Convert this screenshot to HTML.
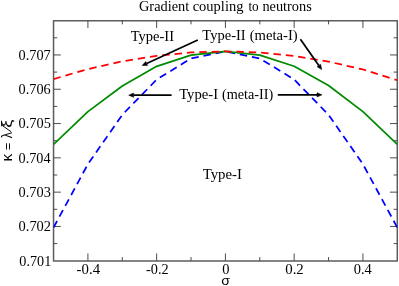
<!DOCTYPE html>
<html><head><meta charset="utf-8"><title>Gradient coupling to neutrons</title>
<style>
html,body{margin:0;padding:0;background:#fff;}
body{width:399px;height:286px;overflow:hidden;}
svg{display:block;will-change:transform;}
text{font-family:"Liberation Serif",serif;font-size:14px;fill:#000;}
.sym{font-family:"Liberation Sans",sans-serif;}
</style></head><body>
<svg width="399" height="286" viewBox="0 0 399 286">
<rect x="0" y="0" width="399" height="286" fill="#fff"/>

<defs><clipPath id="c"><rect x="53.54" y="20.65" width="343.76" height="240.10"/></clipPath></defs>
<g stroke="#5c5c5c" stroke-width="1.5" fill="none" stroke-linejoin="round">
<rect x="53.54" y="20.82" width="343.76" height="240.15"/>
</g>
<g stroke="#383838" stroke-width="0.9" fill="none">
<path d="M87.92 260.75 v-7.3 M87.92 20.65 v7.3"/>
<path d="M122.29 260.75 v-3.7 M122.29 20.65 v3.7"/>
<path d="M156.67 260.75 v-7.3 M156.67 20.65 v7.3"/>
<path d="M191.04 260.75 v-3.7 M191.04 20.65 v3.7"/>
<path d="M225.42 260.75 v-7.3 M225.42 20.65 v7.3"/>
<path d="M259.80 260.75 v-3.7 M259.80 20.65 v3.7"/>
<path d="M294.17 260.75 v-7.3 M294.17 20.65 v7.3"/>
<path d="M328.55 260.75 v-3.7 M328.55 20.65 v3.7"/>
<path d="M362.92 260.75 v-7.3 M362.92 20.65 v7.3"/>
<path d="M53.54 243.60 h3.7 M397.3 243.60 h-3.7"/>
<path d="M53.54 226.45 h7.3 M397.3 226.45 h-7.3"/>
<path d="M53.54 209.30 h3.7 M397.3 209.30 h-3.7"/>
<path d="M53.54 192.15 h7.3 M397.3 192.15 h-7.3"/>
<path d="M53.54 175.00 h3.7 M397.3 175.00 h-3.7"/>
<path d="M53.54 157.85 h7.3 M397.3 157.85 h-7.3"/>
<path d="M53.54 140.70 h3.7 M397.3 140.70 h-3.7"/>
<path d="M53.54 123.55 h7.3 M397.3 123.55 h-7.3"/>
<path d="M53.54 106.40 h3.7 M397.3 106.40 h-3.7"/>
<path d="M53.54 89.25 h7.3 M397.3 89.25 h-7.3"/>
<path d="M53.54 72.10 h3.7 M397.3 72.10 h-3.7"/>
<path d="M53.54 54.95 h7.3 M397.3 54.95 h-7.3"/>
<path d="M53.54 37.80 h3.7 M397.3 37.80 h-3.7"/>
</g>
<g clip-path="url(#c)" fill="none" stroke-linejoin="round">
<polyline points="53.54,227.56 87.92,164.13 122.29,114.79 156.67,79.54 191.04,58.40 225.42,51.35 259.80,58.40 294.17,79.54 328.55,114.79 362.92,164.13 397.30,227.56" stroke="#0000ff" stroke-width="1.75" stroke-dasharray="7.44 4.907"/>
<polyline points="53.54,144.39 87.92,111.59 122.29,86.04 156.67,66.33 191.04,55.07 225.42,51.35 259.80,55.07 294.17,66.23 328.55,85.54 362.92,111.59 397.30,144.39" stroke="#008b00" stroke-width="1.75"/>
<polyline points="53.54,79.05 87.92,69.07 122.29,61.32 156.67,55.78 191.04,52.46 225.42,51.35 259.80,52.46 294.17,55.88 328.55,61.62 362.92,69.47 397.30,80.25" stroke="#ff0000" stroke-width="1.75" stroke-dasharray="7.47 4.915"/>
</g>
<text transform="translate(139.01,10.90) scale(1.0249,1)">Gradient</text>
<text transform="translate(192.68,10.90) scale(1.0363,1)">coupling</text>
<text transform="translate(248.38,10.90) scale(0.9463,1)">to</text>
<text transform="translate(262.39,10.90) scale(1.0254,1)">neutrons</text>
<text transform="translate(19.34,265.55) scale(1.0124,1)">0.701</text>
<text transform="translate(18.53,231.25) scale(1.0347,1)">0.702</text>
<text transform="translate(18.54,196.95) scale(1.0262,1)">0.703</text>
<text transform="translate(18.54,162.65) scale(1.0179,1)">0.704</text>
<text transform="translate(18.54,128.35) scale(1.0262,1)">0.705</text>
<text transform="translate(18.54,94.05) scale(1.0220,1)">0.706</text>
<text transform="translate(18.54,59.75) scale(1.0220,1)">0.707</text>
<text transform="translate(76.62,274.40) scale(1.0573,1)">-0.4</text>
<text transform="translate(146.04,274.40) scale(1.0204,1)">-0.2</text>
<text transform="translate(222.13,274.40) scale(1.0333,1)">0</text>
<text transform="translate(285.22,274.40) scale(1.0615,1)">0.2</text>
<text transform="translate(353.73,274.40) scale(1.0328,1)">0.4</text>
<text transform="translate(130.64,40.80) scale(1.0390,1)">Type-II</text>
<text transform="translate(202.34,40.20) scale(1.0390,1)">Type-II</text>
<text transform="translate(249.64,40.20) scale(1.0487,1)">(meta-I)</text>
<text transform="translate(179.14,99.25) scale(1.0502,1)">Type-I</text>
<text transform="translate(221.96,99.25) scale(1.0173,1)">(meta-II)</text>
<text transform="translate(202.64,179.35) scale(1.0584,1)">Type-I</text>
<text class="sym" style="font-size:13px" transform="translate(221.31,284.80) scale(1.0847,1)">σ</text>
<text class="sym" style="font-size:13.2px" transform="translate(11.60,161.53) rotate(-90) scale(1.1739,1.12)">κ</text>
<text class="sym" style="font-size:13.2px" transform="translate(11.85,150.11) rotate(-90) scale(0.9725,1.0)">=</text>
<text class="sym" style="font-size:13.2px" transform="translate(12.00,138.27) rotate(-90) scale(0.9412,1.05)">λ</text>
<text class="sym" style="font-size:13.2px" transform="translate(12.10,127.78) rotate(-90) scale(1.3659,1.12)">ξ</text>
<path d="M11.2 131.8 L1.7 125.1" stroke="#000" stroke-width="0.95" fill="none"/>
<path d="M197.80 40.00 L146.64 63.51" stroke="#000" stroke-width="1.75" fill="none"/><path d="M142.10 65.60 L145.75 61.56 L147.54 65.47 Z" fill="#000" stroke="#000" stroke-width="0.5" stroke-linejoin="miter"/>
<path d="M300.40 39.30 L318.82 65.51" stroke="#000" stroke-width="1.75" fill="none"/><path d="M321.70 69.60 L317.07 66.75 L320.58 64.27 Z" fill="#000" stroke="#000" stroke-width="0.5" stroke-linejoin="miter"/>
<path d="M171.60 95.20 L133.70 95.20" stroke="#000" stroke-width="1.75" fill="none"/><path d="M128.70 95.20 L133.70 93.05 L133.70 97.35 Z" fill="#000" stroke="#000" stroke-width="0.5" stroke-linejoin="miter"/>
<path d="M277.80 94.85 L317.00 94.85" stroke="#000" stroke-width="1.75" fill="none"/><path d="M322.00 94.85 L317.00 97.00 L317.00 92.70 Z" fill="#000" stroke="#000" stroke-width="0.5" stroke-linejoin="miter"/>
</svg></body></html>
